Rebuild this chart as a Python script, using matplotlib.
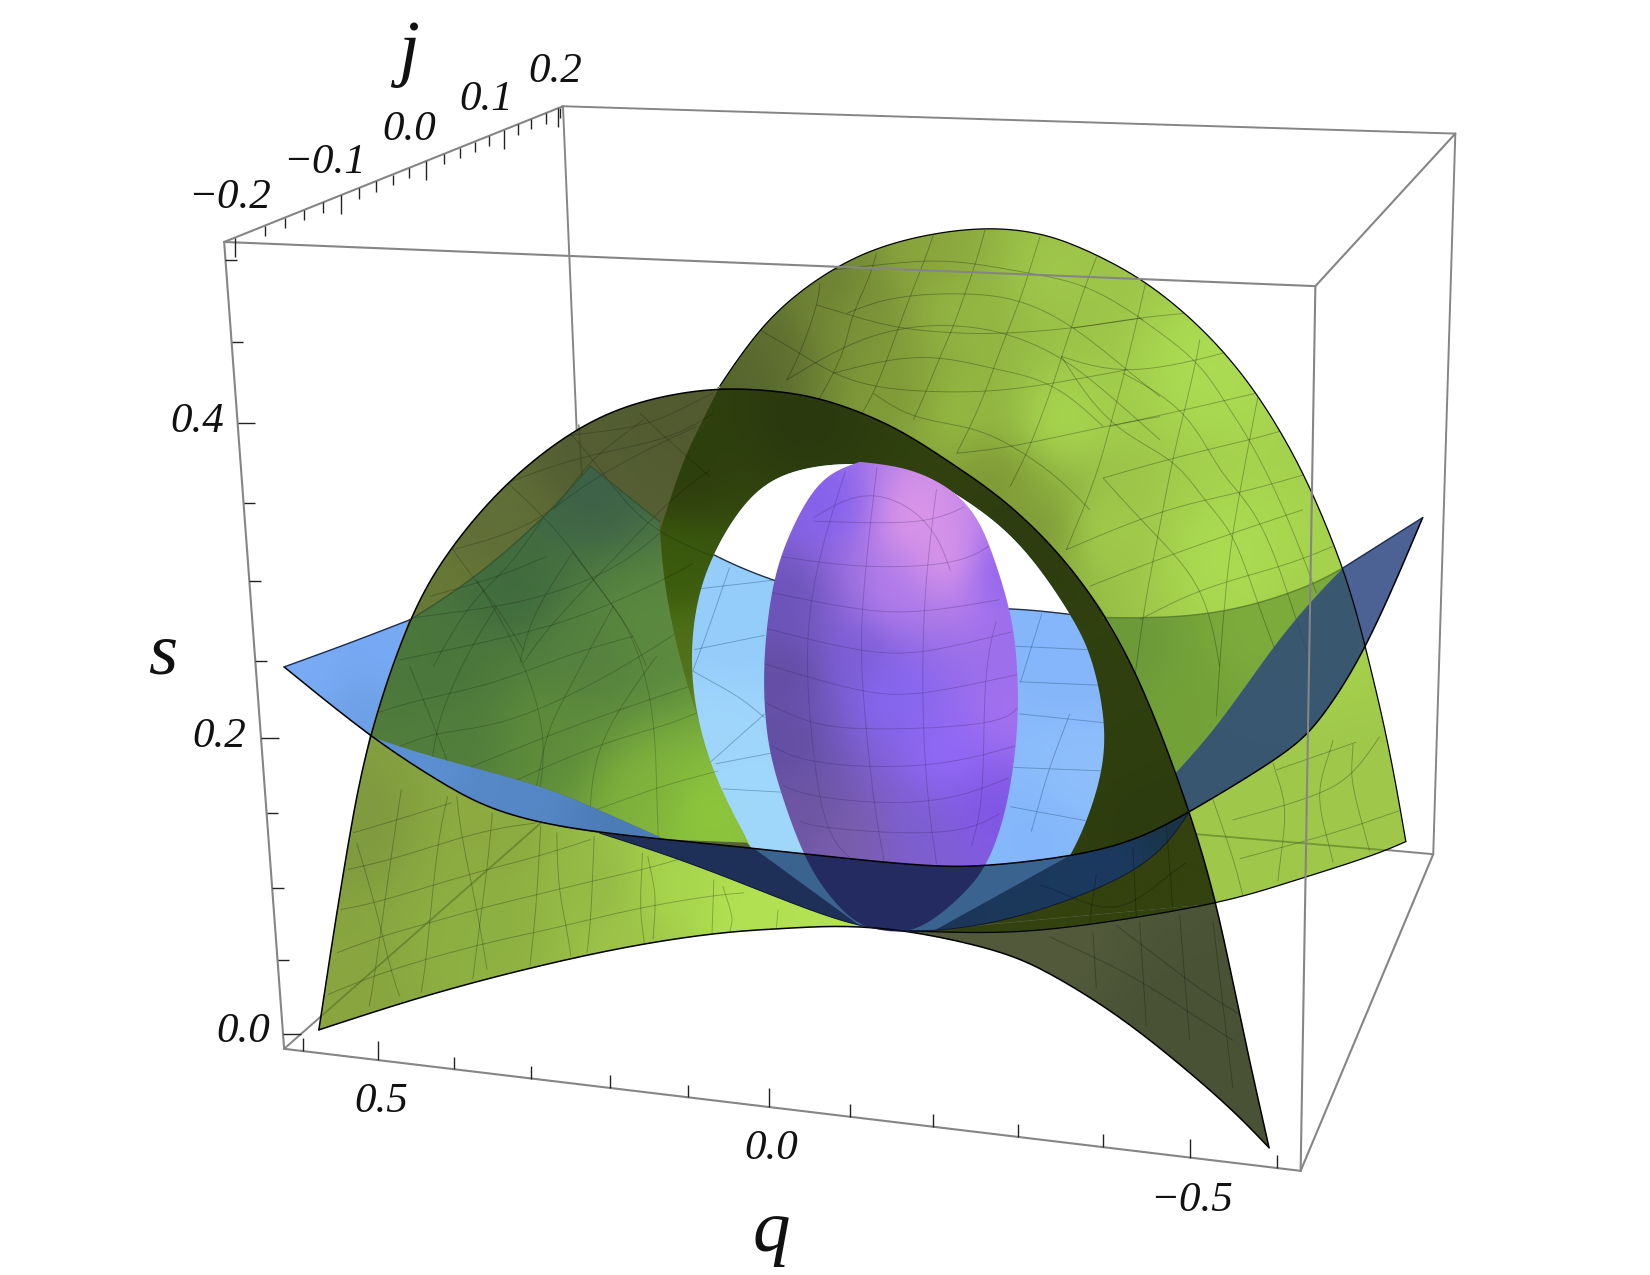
"""Three nested surfaces in (q, j, s) space, traced from the picture.
All curves are in picture units of a 1568x1212 canvas."""
import numpy as np
import matplotlib
matplotlib.use("Agg")
import matplotlib.pyplot as plt
from matplotlib.collections import LineCollection
from matplotlib.colors import to_rgb
from matplotlib.patches import Polygon

# frame corners
A, B, C, D = (213, 230), (535, 101), (1383, 127), (1250, 272)
E, F, G, H = (270, 997), (1236, 1113), (1362, 812), (562, 740)

# ticks: q by x along E-F, s by y along A-E, j by x along A-B
Q_MINOR = [288, 431, 505, 580, 654, 808, 887, 967, 1048, 1214]
Q_MAJOR = [359, 731, 1131]
S_MINOR = [247, 325, 478, 552, 628, 773, 844, 913]
S_MAJOR = [402, 702, 983]
J_MINOR = [252, 271, 289, 307, 341, 357, 373, 389, 422, 437, 451, 465, 492, 505, 519, 532]
J_MAJOR = [223, 324, 405, 479, 530]

Q_LABELS = [("0.5", 362, 1047), ("0.0", 733, 1092), ("\u22120.5", 1132, 1141)]
S_LABELS = [("0.4", 187, 401), ("0.2", 208, 700), ("0.0", 231, 981)]
J_LABELS = [("\u22120.2", 218, 188), ("\u22120.1", 308, 155), ("0.0", 389, 123),
            ("0.1", 462, 95), ("0.2", 528, 68)]
AXIS_NAMES = [("q", 733, 1172), ("s", 155, 623), ("j", 388, 52)]

# outlines
ARCH_TOP = [(303, 979), (317, 887), (333, 790), (351, 700), (389, 588), (427, 523), (481, 459), (551, 405),
            (614, 380), (681, 369), (738, 372), (785, 380), (849, 405), (900, 438), (950, 472), (1003, 522),
            (1051, 586), (1091, 665), (1130, 771), (1156, 859), (1180, 975), (1206, 1091)]
ARCH_BOTTOM = [(1206, 1091), (1172, 1056), (1124, 1014), (1061, 964), (997, 925), (950, 904),
               (865, 885), (798, 880), (741, 883), (690, 886), (605, 898), (504, 920), (402, 947),
               (303, 979)]
DOME_TOP = [(627, 505), (646, 447), (660, 415), (684, 367), (703, 339), (738, 295), (792, 255), (849, 230),
            (928, 216), (991, 222), (1039, 241), (1099, 274), (1170, 340), (1220, 415),
            (1250, 475), (1280, 550), (1300, 625), (1320, 710), (1336, 800)]
DOME_BOTTOM = [(1336, 800), (1300, 815), (1220, 840), (1156, 859), (1030, 880), (950, 887), (865, 885)]
HOLE_LEFT = [(713, 804), (690, 760), (673, 719), (660, 668), (657, 617), (663, 570), (678, 526),
             (713, 470), (757, 446), (817, 440), (870, 449), (917, 475), (970, 516), (1017, 584),
             (1037, 624), (1050, 685), (1047, 736), (1030, 787), (1017, 813)]
BLUE_FRONT = [(270, 634), (352, 700), (415, 741), (466, 769), (537, 787), (632, 798), (714, 806), (870, 823),
              (937, 823), (1016, 814), (1077, 799), (1130, 772), (1222, 716), (1254, 684), (1298, 617), (1352, 492)]
BLUE_BACK_LEFT = [(270, 634), (330, 612), (390, 589)]
BLUE_BACK_MID = [(390, 589), (450, 550), (516, 493), (561, 443)]
BLUE_BACK_HOLE = [(650, 510), (678, 528), (737, 553), (800, 568), (900, 578), (960, 578), (1017, 584)]
BLUE_BACK_RIGHT = [(1048, 587), (1115, 587), (1181, 578), (1244, 557), (1276, 540), (1352, 492)]
SLATE_SIDE = [(1276, 540), (1220, 600), (1162, 684), (1117, 735)]
WEDGE_LOW = [(570, 792), (673, 826), (798, 877), (865, 886), (937, 879), (1010, 858), (1093, 821), (1130, 772)]
SLIVER_TOP = [(352, 700), (408, 719), (504, 744), (558, 765), (632, 798)]
WALL_LEFT = [(627, 496), (630, 542), (640, 600), (663, 685), (710, 801)]
EGG = [(817, 439), (785, 452), (763, 482), (747, 516), (735, 553), (727, 611), (726, 662), (730, 706),
       (740, 747), (762, 809), (783, 845), (810, 875), (835, 884), (863, 886), (890, 872), (917, 848),
       (937, 823), (953, 781), (963, 730), (968, 672), (965, 611), (957, 570), (943, 526), (930, 495),
       (910, 470), (880, 452), (850, 443), (817, 439)]

# colour anchors: x, y, colour
DOME_SHADE = [(680, 400, "#4c5a26"), (706, 345, "#556530"), (722, 326, "#5f7030"), (790, 270, "#6b7f33"),
              (817, 295, "#7d9439"), (849, 374, "#7f9a38"), (880, 240, "#8aa63d"), (912, 295, "#95b844"),
              (912, 389, "#96ba42"), (944, 459, "#7d9735"), (997, 506, "#7c9836"), (1000, 260, "#a0c84a"),
              (1010, 400, "#a8d850"), (1045, 506, "#a5d04e"), (1150, 350, "#abdc52"), (1170, 530, "#abdc52"),
              (1250, 600, "#a5d14c"), (1300, 760, "#9fc84b"), (1180, 800, "#a0c94c")]
ARCH_SHADE = [(400, 560, "#687a36"), (460, 490, "#616f38"), (560, 420, "#545e33"), (640, 390, "#525b30"),
              (1000, 900, "#525a3b"), (1120, 980, "#4a5236"), (1190, 1060, "#4a5236")]
ARCH_LOW_SHADE = [(335, 780, "#7f9a3f"), (320, 950, "#88a53f"), (470, 800, "#8caa40"), (470, 880, "#8db042"),
                  (570, 850, "#94b846"), (640, 850, "#a9d94d"), (710, 870, "#b3e353"), (790, 872, "#b3e353"),
                  (600, 885, "#9ec448")]
OVER_BLUE_SHADE = [(561, 465, "#3d6148"), (490, 560, "#3f6a3e"), (420, 640, "#4a753c"), (560, 620, "#55803f"),
                   (610, 600, "#5c8a3f"), (520, 700, "#5e8c3a"), (620, 760, "#7fb23c"), (670, 775, "#8fc83c"),
                   (430, 700, "#527e3c")]
BAND_SHADE = [(650, 450, "#2e3e0e"), (760, 400, "#2b3a0e"), (960, 530, "#2e3d0f"), (1060, 700, "#2f3f0f"),
              (1100, 780, "#2c3c0e"), (640, 540, "#3a5a0c"), (650, 620, "#4f7018"), (670, 710, "#709a26"),
              (705, 795, "#a2d23f")]
HOLE_BLUE_SHADE = [(680, 700, "#a0d6fc"), (690, 600, "#94ccfa"), (720, 790, "#a0d8fb"), (1020, 630, "#85b5fb"),
                   (1030, 740, "#8fbffb"), (990, 790, "#84b6fb")]
EGG_SHADE = [(790, 480, "#8260ef"), (870, 490, "#e39ae8"), (905, 530, "#e49de9"), (850, 570, "#b57eee"),
             (745, 570, "#6a52b8"), (745, 640, "#5f4c9f"), (745, 710, "#5f4d9f"), (765, 770, "#6c559f"),
             (820, 620, "#7a5cd8"), (850, 660, "#8768f8"), (900, 720, "#9169fc"), (955, 680, "#a472f0"),
             (810, 800, "#7a5ea8"), (870, 790, "#7d5fd0"), (945, 770, "#7f55e6"), (950, 540, "#8a5ff0")]
LEFT_BLUE = [(290, 635, "#7aacf6"), (370, 620, "#78aaf5"), (350, 680, "#6c9fe4")]
WEDGE_DARK = [(600, 805, "#1e3058"), (720, 840, "#1f3058"), (1060, 820, "#1c3a60"), (1120, 785, "#1a3345")]
SLIVER = [(380, 715, "#5b90d2"), (500, 755, "#5687c6"), (600, 785, "#4c7cb6")]
LOW_RIGHT_DARK = [(950, 880, "#33430f"), (1130, 830, "#33420f")]
STEEL = "#3b638f"
DOME_BAND = [(1070, 620, "#6d9a3a"), (1200, 600, "#7dab3c"), (1130, 690, "#73a238")]

# surface mesh, traced on enlarged crops (crop pixels; see CROPS for how they map)
CROPS = {"dome_top": (627.2, 199.6, 0.3168, 0.3168), "dome_right": (950, 190, 0.3167, 0.3167),
         "arch_top": (361, 351.6, 0.3168, 0.3168), "arch_mid": (218.5, 418, 0.3167, 0.3167),
         "arch_low": (266, 741, 0.3394, 0.3168), "tip": (950, 665, 0.3167, 0.3521),
         "egg": (570, 380, 0.3333, 0.3393)}
DOME_TOP_RADIAL = [
    [(480, 220), (470, 290), (420, 430), (380, 510)], [(650, 130), (625, 210), (575, 320), (555, 410), (520, 490), (470, 580)],
    [(820, 75), (790, 160), (750, 260), (715, 355), (680, 450), (640, 550), (600, 620)],
    [(975, 60), (950, 150), (915, 250), (880, 350), (840, 440), (800, 540), (760, 630)],
    [(1140, 80), (1110, 175), (1080, 270), (1040, 370), (1010, 450), (970, 560), (930, 650), (890, 730)],
    [(1310, 140), (1275, 230), (1235, 350), (1205, 440), (1180, 520), (1140, 630), (1100, 730), (1050, 830)],
]
DOME_TOP_ARCS = [
    [(520, 180), (700, 160), (880, 150), (1100, 190), (1280, 225), (1450, 330)],
    [(470, 285), (570, 315), (715, 355), (900, 370), (1040, 370), (1235, 355), (1440, 325)],
    [(560, 310), (700, 260), (915, 250), (1080, 270), (1240, 350), (1400, 480), (1500, 560)],
    [(300, 360), (420, 430), (520, 490), (640, 530), (800, 545), (980, 545), (1150, 525), (1400, 480)],
    [(380, 510), (550, 410), (715, 355), (880, 345), (1040, 370), (1200, 440), (1330, 540), (1500, 690)],
    [(520, 490), (680, 450), (840, 440), (1010, 480), (1180, 520), (1330, 650)],
    [(640, 550), (760, 625), (930, 650), (1060, 710), (1190, 800), (1290, 900)],
    [(890, 730), (1060, 710), (1330, 650), (1500, 620)],
]
DOME_RIGHT_LINES = [
    [(440, 240), (375, 520), (330, 680), (290, 830), (200, 1050)],
    [(600, 420), (590, 480), (555, 630), (520, 775), (490, 930), (460, 1085), (430, 1250), (390, 1550)],
    [(775, 590), (750, 720), (720, 880), (700, 1000), (680, 1150), (660, 1400), (650, 1550)],
    [(420, 355), (590, 480), (670, 600), (750, 720), (840, 900), (910, 1070), (950, 1180)],
    [(370, 520), (555, 630), (650, 800), (720, 880), (800, 1000), (870, 1200), (920, 1350)],
    [(185, 470), (330, 680), (520, 775), (610, 900), (700, 1000), (770, 1200), (830, 1360)],
    [(310, 835), (460, 1000), (610, 1165), (660, 1400)],
    [(220, 385), (420, 355), (560, 340)], [(185, 470), (370, 520), (590, 480), (670, 460)],
    [(330, 680), (555, 630), (770, 580)], [(310, 835), (520, 775), (750, 720), (840, 695)],
    [(200, 1050), (490, 930), (720, 880), (930, 820)], [(270, 1160), (460, 1085), (700, 1000), (910, 930)],
    [(420, 1260), (610, 1165), (850, 1100), (1000, 1040)],
]
DOME_LOW_LINES = [
    [(700, 325), (950, 260), (1060, 200), (1140, 100)], [(720, 430), (1000, 360), (1200, 300)], [(830, 190), (1070, 115)],
    [(640, 270), (700, 430), (730, 530)], [(820, 170), (855, 300), (835, 490)], [(1000, 110), (960, 260), (1000, 440)],
    [(1060, 120), (1060, 230), (1110, 410)],
]
ARCH_TOP_LINES = [
    [(220, 540), (280, 625), (350, 710), (430, 840)], [(385, 340), (500, 450), (580, 545), (640, 630), (700, 710), (760, 800), (800, 890)],
    [(570, 190), (640, 270), (730, 390), (840, 490), (1000, 560)], [(780, 130), (870, 215), (990, 320)],
    [(790, 150), (640, 270), (520, 420)], [(990, 300), (860, 400), (700, 570), (640, 630), (500, 780), (430, 880)],
    [(580, 545), (480, 700), (440, 800), (420, 880)], [(490, 445), (380, 600), (270, 700), (160, 890)],
    [(215, 540), (360, 500), (490, 440), (620, 340), (800, 240), (950, 170)], [(150, 680), (350, 620), (500, 560)],
    [(90, 745), (350, 710), (500, 675), (700, 600), (840, 490)], [(60, 870), (440, 790), (650, 720), (850, 630), (940, 580)],
    [(550, 200), (800, 160), (1000, 70)], [(380, 340), (600, 260), (860, 210), (1000, 130)],
]
ARCH_MID_LINES = [
    [(440, 820), (570, 780), (800, 730), (1000, 650), (1210, 590)], [(510, 920), (620, 880), (780, 860), (950, 800), (1150, 700), (1340, 580)],
    [(680, 1000), (950, 890), (1200, 800), (1380, 740)], [(820, 1040), (1090, 920), (1300, 860), (1400, 820)],
    [(1100, 1110), (1300, 1040), (1480, 990)], [(740, 420), (880, 660), (945, 890), (930, 1050)],
    [(540, 680), (620, 880), (680, 1040)], [(1030, 340), (1150, 500), (1210, 600), (1270, 800), (1280, 1050), (1285, 1190)],
    [(800, 500), (720, 630), (650, 780), (620, 880), (600, 1000)], [(1150, 500), (1000, 780), (950, 890), (920, 1040)],
    [(1280, 650), (1120, 880), (1085, 1050), (1080, 1140)],
]
ARCH_LOW_LINES = [
    [(215, 190), (265, 370), (310, 570), (335, 650)], [(340, 30), (310, 240), (265, 590), (250, 680)],
    [(470, 50), (440, 200), (410, 540), (395, 640)], [(495, 50), (510, 180), (550, 380), (580, 570)],
    [(595, 100), (580, 270), (555, 470), (540, 600)], [(730, 140), (720, 340), (710, 460), (700, 560)],
    [(775, 160), (780, 320), (800, 430), (815, 530)], [(880, 170), (875, 300), (870, 420), (860, 520)],
    [(1015, 220), (1010, 380), (1020, 490)], [(1030, 230), (1050, 350), (1045, 480)], [(1215, 300), (1210, 460)],
    [(1240, 320), (1265, 410), (1260, 455)], [(1395, 390), (1390, 445)],
    [(205, 160), (330, 120), (480, 70)], [(190, 270), (310, 240), (445, 195), (590, 150), (720, 130)],
    [(170, 390), (265, 370), (435, 315), (580, 270), (725, 230), (870, 180)],
    [(160, 520), (285, 470), (420, 430), (550, 390), (720, 345), (875, 305), (1035, 265), (1130, 235)],
    [(135, 645), (310, 570), (560, 495), (710, 460), (870, 420), (1010, 385), (1200, 350), (1300, 340)],
]
TIP_LINES = [[(280, 630), (290, 780)], [(420, 600), (440, 880)], [(540, 580), (570, 920)], [(640, 600), (700, 1050)],
             [(150, 640), (400, 750), (700, 920)], [(350, 610), (600, 780), (720, 850)],
             [(290, 470), (270, 600)], [(400, 400), (410, 590)], [(500, 340), (520, 570)], [(120, 500), (350, 560), (560, 440)]]
HOLE_LINES = [[(280, 530), (500, 505)], [(270, 700), (470, 660)], [(265, 760), (390, 830), (470, 890)],
              [(330, 1020), (490, 990)], [(350, 1090), (530, 1100)], [(370, 470), (310, 640), (265, 760)],
              [(470, 880), (310, 1020)], [(1170, 690), (1390, 700)], [(1195, 790), (1430, 800)],
              [(1195, 880), (1440, 905)], [(1180, 1030), (1440, 1040)], [(1170, 1140), (1390, 1180)],
              [(1260, 600), (1200, 790)], [(1340, 880), (1280, 1040), (1230, 1210)]]
EGG_LINES = [
    [(610, 340), (780, 345), (940, 340), (1040, 300)], [(520, 440), (750, 470), (1010, 460), (1110, 410)],
    [(490, 540), (745, 590), (920, 595), (1140, 560)], [(470, 640), (745, 705), (920, 710), (1175, 650)],
    [(470, 740), (750, 820), (920, 825), (1190, 770)], [(475, 850), (600, 905), (760, 925), (1120, 910), (1195, 860)],
    [(490, 970), (610, 1020), (940, 1030), (1185, 970)], [(520, 1080), (620, 1115), (945, 1135), (1165, 1060)],
    [(570, 1180), (640, 1200), (1000, 1220), (1140, 1160)],
    [(790, 190), (745, 590), (750, 820), (780, 1120), (810, 1290)], [(960, 250), (920, 595), (925, 1030), (960, 1300)],
    [(700, 200), (590, 570), (600, 905), (640, 1200), (720, 1290)], [(1130, 620), (1095, 780), (1095, 1100), (1060, 1250)],
    [(610, 330), (770, 250), (940, 340), (1000, 480)],
]


def from_crop(lines, name):
    x0, y0, sx, sy = CROPS[name]
    return [[(x0 + px * sx, y0 + py * sy) for px, py in s] for s in lines]


def smooth(pts, n=10):
    """Catmull-Rom through the traced points, then a light moving average to take out hand wobble."""
    p = np.asarray(pts, float)
    first, last = p[0].copy(), p[-1].copy()
    p = np.vstack([2 * p[0] - p[1], p, 2 * p[-1] - p[-2]])
    out = []
    for i in range(1, len(p) - 2):
        for t in np.linspace(0, 1, n, endpoint=False):
            out.append(0.5 * (2 * p[i] + (p[i + 1] - p[i - 1]) * t
                              + (2 * p[i - 1] - 5 * p[i] + 4 * p[i + 1] - p[i + 2]) * t ** 2
                              + (3 * p[i] - p[i - 1] - 3 * p[i + 1] + p[i + 2]) * t ** 3))
    out.append(p[-2])
    out = np.array(out)
    if len(pts) < 4:
        return out
    k = n
    for _ in range(2):
        pad0 = 2 * out[0] - out[1:k + 1][::-1]
        pad1 = 2 * out[-1] - out[-k - 1:-1][::-1]
        full = np.vstack([pad0, out, pad1])
        kernel = np.ones(k) / k
        sm = np.column_stack([np.convolve(full[:, j], kernel, mode="same") for j in range(2)])
        out = sm[k:-k]
    out[0], out[-1] = first, last
    return out


def joined(*parts):
    return np.vstack([smooth(s) if len(s) > 2 else np.asarray(s, float) for s in parts])


plt.rcParams["font.family"] = ["Liberation Serif", "DejaVu Serif"]
fig = plt.figure(figsize=(16.5, 12.75), dpi=100)
ax = fig.add_axes([0, 0, 1, 1])
ax.axis("off")
z = [10]


def next_z():
    z[0] += 1
    return z[0]


def shaded(outline, anchors):
    """Fill an outline with colours blended from the sampled anchor points."""
    outline = np.asarray(outline, float)
    x0, y0 = outline.min(0) - 4
    x1, y1 = outline.max(0) + 4
    gx, gy = np.meshgrid(np.arange(x0, x1 + 4, 4), np.arange(y0, y1 + 4, 4))
    ax_pts = np.array([a[:2] for a in anchors], float)
    cols = np.array([to_rgb(a[2]) for a in anchors])
    d2 = (gx[..., None] - ax_pts[:, 0]) ** 2 + (gy[..., None] - ax_pts[:, 1]) ** 2
    w = (d2 + 35.0 ** 2) ** -1.6
    rgb = (w[..., None] * cols).sum(2) / w.sum(2)[..., None]
    im = ax.imshow(rgb, extent=(x0, x1, y1, y0), aspect="auto", interpolation="bilinear", zorder=next_z())
    im.set_clip_path(Polygon(outline, closed=True, transform=ax.transData))
    return im


def flat(outline, color, alpha=1.0, clip=None):
    p = Polygon(outline, closed=True, fc=color, ec="none", alpha=alpha, zorder=next_z())
    ax.add_patch(p)
    if clip is not None:
        p.set_clip_path(Polygon(clip, closed=True, transform=ax.transData))
    return p


def stroke(pts, color="black", lw=1.0, alpha=1.0, clip=None):
    pts = np.asarray(pts, float)
    ln, = ax.plot(pts[:, 0], pts[:, 1], color=color, lw=lw, alpha=alpha, zorder=next_z(),
                  solid_capstyle="round")
    if clip is not None:
        ln.set_clip_path(Polygon(clip, closed=True, transform=ax.transData))


def mesh(lines, alpha=0.25, color="black", lw=0.65, clip=None):
    lc = LineCollection([smooth(s, 6) for s in lines], colors=color, linewidths=lw,
                        alpha=alpha, zorder=next_z())
    ax.add_collection(lc)
    if clip is not None:
        lc.set_clip_path(Polygon(clip, closed=True, transform=ax.transData))


FRAME = "#858585"
for p, q in [(B, C), (C, G), (B, H), (H, G), (H, E)]:
    stroke([p, q], FRAME, 1.4)

# outlines put together
dome = joined(DOME_TOP, DOME_BOTTOM)
arch = joined(ARCH_TOP, ARCH_BOTTOM)
hole = joined(HOLE_LEFT, list(reversed(BLUE_FRONT[6:10])))
egg = smooth(EGG)
arch_low = joined(BLUE_FRONT[1:5], WEDGE_LOW[:4], ARCH_BOTTOM[6:], ARCH_TOP[:4])
over_blue = joined(BLUE_BACK_MID, [(561, 443), (627, 496)], WALL_LEFT, [(710, 801), (632, 798)],
                   list(reversed(SLIVER_TOP)), ARCH_TOP[3:5])
band = joined(DOME_TOP[:4], ARCH_TOP[9:19], list(reversed(BLUE_FRONT[6:12])), list(reversed(WALL_LEFT)))
sliver = joined(SLIVER_TOP, list(reversed(BLUE_FRONT[1:6])))
wedge = joined([(570, 792), (632, 798)], BLUE_FRONT[5:12], list(reversed(WEDGE_LOW)))
blue_corner = joined(BLUE_BACK_LEFT, ARCH_TOP[4:2:-1], list(reversed(BLUE_FRONT[:2])))
slate = joined(SLATE_SIDE, [(1117, 735), (1130, 772)], BLUE_FRONT[11:])
dome_band = joined([(1017, 584), (1048, 587)], BLUE_BACK_RIGHT[:5], SLATE_SIDE, [(1117, 735), (1091, 665)],
                   list(reversed(ARCH_TOP[15:18])))
low_right = joined(WEDGE_LOW[3:], ARCH_TOP[18:20], list(reversed(DOME_BOTTOM[3:])))
above_blue = joined(BLUE_BACK_HOLE, [(1017, 584), (1070, 560), (1070, 420), (640, 420), (640, 510), (650, 510)])
steel = np.array([(713, 804), (870, 822), (1017, 813), (887, 885), (820, 882)], float)

# surfaces, back to front
shaded(dome, DOME_SHADE)
shaded(arch, ARCH_SHADE)
shaded(blue_corner, LEFT_BLUE)
shaded(over_blue, OVER_BLUE_SHADE)
shaded(arch_low, ARCH_LOW_SHADE)
shaded(dome_band, DOME_BAND)
mesh(from_crop(DOME_TOP_RADIAL + DOME_TOP_ARCS, "dome_top") + from_crop(DOME_RIGHT_LINES, "dome_right")
     + from_crop(DOME_LOW_LINES, "tip"), alpha=0.27, clip=dome)
shaded(band, BAND_SHADE)
shaded(hole, HOLE_BLUE_SHADE)
flat(above_blue, "white", clip=hole)
stroke(smooth(BLUE_BACK_HOLE), "#20304a", 1.0, clip=hole)
mesh(from_crop(HOLE_LINES, "egg"), alpha=0.4, color="#24507a", clip=hole)
shaded(egg, EGG_SHADE)
mesh(from_crop(EGG_LINES, "egg"), alpha=0.25, color="#2a1a50", clip=egg)
shaded(sliver, SLIVER)
shaded(low_right, LOW_RIGHT_DARK)
shaded(wedge, WEDGE_DARK)
flat(steel, STEEL, clip=wedge)
flat(wedge, "#232b60", clip=egg)
flat(slate, "#1f3a7a", alpha=0.8)

mesh(from_crop(ARCH_TOP_LINES, "arch_top"), alpha=0.2, clip=arch)
mesh(from_crop(ARCH_MID_LINES, "arch_mid"), alpha=0.2, clip=over_blue)
mesh(from_crop(ARCH_LOW_LINES, "arch_low"), alpha=0.25, clip=arch_low)
mesh(from_crop(TIP_LINES, "tip"), alpha=0.25, clip=arch)

# edges of the transparent sheets
stroke([E, H], "#4f6d20", 1.3, alpha=0.55, clip=arch_low)
stroke([(1137, 793), G], "#4f6d20", 1.3, alpha=0.55, clip=dome)
stroke([(550, 404), (553, 452)], "#3f4a20", 1.2, alpha=0.6)
stroke(smooth(BLUE_BACK_MID), "#33502c", 1.0, alpha=0.8)
stroke([(561, 443), (627, 496)], "#33502c", 1.0, alpha=0.8)
stroke(smooth(BLUE_BACK_RIGHT[:5]), "#4a7028", 1.0, alpha=0.7)
stroke(smooth(DOME_TOP[3:]), lw=0.9)
stroke(smooth(DOME_BOTTOM), lw=0.9)
stroke(smooth(ARCH_TOP), lw=1.1)
stroke(smooth(ARCH_BOTTOM), lw=1.1)
stroke(smooth(BLUE_FRONT), lw=1.1)
stroke(smooth(BLUE_BACK_LEFT), "#1c2c50", 1.0)
stroke(smooth(BLUE_BACK_RIGHT[4:]), "#1c2c50", 1.0)
stroke(smooth(WEDGE_LOW), "#101830", 0.7)

# front of the box
for p, q in [(A, B), (A, D), (D, C), (A, E), (E, F), (D, F), (F, G)]:
    stroke([p, q], FRAME, 1.5)


def ticks_on(line, values, length, by_x, dx, dy):
    (x0, y0), (x1, y1) = line
    segs = []
    for v in values:
        if by_x:
            px, py = v, y0 + (v - x0) * (y1 - y0) / (x1 - x0)
        else:
            px, py = x0 + (v - y0) * (x1 - x0) / (y1 - y0), v
        segs.append([(px, py), (px + dx * length, py + dy * length)])
    ax.add_collection(LineCollection(segs, colors="#222222", linewidths=1.0, zorder=next_z()))


ticks_on((E, F), Q_MINOR, 12, True, 0, -1)
ticks_on((E, F), Q_MAJOR, 18, True, 0, -1)
ticks_on((A, E), S_MINOR, 11, False, 1, 0)
ticks_on((A, E), S_MAJOR, 17, False, 1, 0)
ticks_on((A, B), J_MINOR, 10, True, 0, 1)
ticks_on((A, B), J_MAJOR, 18, True, 0, 1)

for txt, x, y in Q_LABELS + S_LABELS + J_LABELS:
    ax.text(x, y, txt, fontsize=31, style="italic", ha="center", va="center", color="#111111", zorder=next_z())
for txt, x, y in AXIS_NAMES:
    ax.text(x, y, txt, fontsize=54, style="italic", ha="center", va="center", color="#111111", zorder=next_z())

ax.set_xlim(0, 1568)
ax.set_ylim(1212, 0)
fig.savefig("out.png", dpi=100, facecolor="white")
